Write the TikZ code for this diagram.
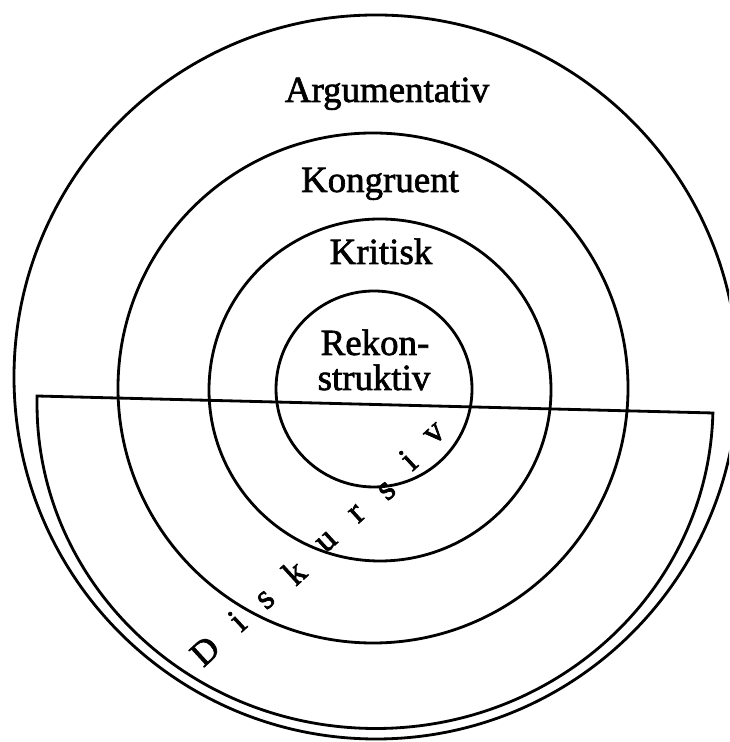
\documentclass[tikz,border=0pt]{standalone}
\usepackage{fontspec}
\setmainfont{Liberation Serif}
\newfontfamily\inkfont{Liberation Serif}[FakeBold=1.8]
\tikzset{
  % Ring line
  RC/.style={draw=black,line width=1.6pt},
  % Label inside a ring
  LT/.style={font=\inkfont\fontsize{21}{21}\selectfont,anchor=base,inner sep=0pt},
  % Letter of the tilted word
  DL/.style={font=\inkfont\fontsize{20}{20}\selectfont,rotate=42.5,inner sep=0pt},
}
\begin{document}
\begin{tikzpicture}[x=0.02cm,y=0.02cm]
  \clip (0,0) rectangle (729,742);
  % ring centres
  \coordinate (c0) at (376,365);
  \coordinate (c1) at (373,354);
  \coordinate (c2) at (380,352);
  \coordinate (c3) at (374,353);
  \coordinate (h0) at (375,337.5);
  % rings
  \draw[RC] (c0) circle[radius=362];
  \draw[RC] (c1) circle[radius=255];
  \draw[RC] (c2) circle[radius=171];
  \draw[RC] (c3) circle[radius=98];
  % half disk
  \draw[RC,rotate around={-1.44:(h0)}] (37,337.5)
        arc[start angle=180,end angle=360,x radius=338,y radius=324] -- cycle;
  % labels
  \node[LT] (arg) at (387,640) {Argumentativ};
  \node[LT] (kon) at (380,550) {Kongruent};
  \node[LT] (kri) at (381,478) {Kritisk};
  \node[LT] (rek1) at (375,387) {Rekon-};
  \node[LT] (rek2) at (374,352) {struktiv};
  \foreach \ch/\px/\py [count=\k] in {D/205/91, i/237/121, s/266/142,
      k/294/170, u/327/200, r/357/228, s/387/251, i/408/282, v/435/308}
    \node[DL] (dk\k) at (\px,\py) {\ch};
\end{tikzpicture}
\end{document}
